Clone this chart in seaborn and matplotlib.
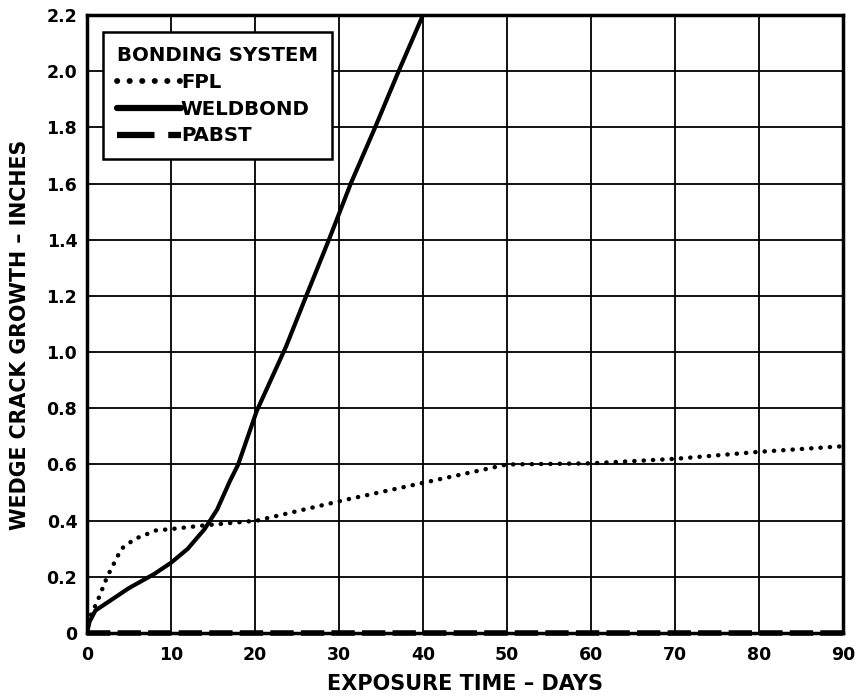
import numpy as np
import pandas as pd
import matplotlib
matplotlib.use("Agg")
import matplotlib.pyplot as plt
import seaborn as sns

# Data
fpl_days = [0, 0.4, 1.2, 2.4, 4.1, 5.7, 8.2, 10, 13.9, 20.2, 30.6, 41.6, 50, 60, 70, 80, 90]
fpl_crack = [0, 0.06, 0.11, 0.2, 0.3, 0.335, 0.365, 0.37, 0.383, 0.4, 0.473, 0.545, 0.6, 0.604, 0.62, 0.645, 0.665]

weld_days = [0, 0.3, 1.0, 2.0, 5.0, 8.0, 10, 12, 14, 15.5, 17, 18, 20.2, 23.7, 26.1, 28.8, 31.4, 34.3, 37.1, 40]
weld_crack = [0, 0.04, 0.08, 0.1, 0.16, 0.21, 0.25, 0.3, 0.37, 0.44, 0.54, 0.6, 0.79, 1.02, 1.2, 1.4, 1.6, 1.8, 2.0, 2.2]

pabst_days = [0, 90]
pabst_crack = [0, 0]

x_ticks = [0, 10, 20, 30, 40, 50, 60, 70, 80, 90]
y_ticks = [0, 0.2, 0.4, 0.6, 0.8, 1.0, 1.2, 1.4, 1.6, 1.8, 2.0, 2.2]
y_tick_labels = ["0", "0.2", "0.4", "0.6", "0.8", "1.0", "1.2", "1.4", "1.6", "1.8", "2.0", "2.2"]

sns.set_style("white")
plt.rcParams['font.family'] = ['DejaVu Sans']
plt.rcParams['font.weight'] = 'bold'
plt.rcParams['text.color'] = 'black'
plt.rcParams['axes.labelcolor'] = 'black'
plt.rcParams['xtick.color'] = 'black'
plt.rcParams['ytick.color'] = 'black'
plt.rcParams['legend.labelcolor'] = 'black'

fig = plt.figure(figsize=(8.57, 6.98), dpi=100)
ax = fig.add_axes([0.1015, 0.0931, 0.8822, 0.8854])

df_fpl = pd.DataFrame({"days": fpl_days, "crack": fpl_crack})
df_weld = pd.DataFrame({"days": weld_days, "crack": weld_crack})
df_pabst = pd.DataFrame({"days": pabst_days, "crack": pabst_crack})

sns.lineplot(data=df_fpl, x="days", y="crack", ax=ax, color="black", lw=3.2,
             label="FPL", sort=False, estimator=None)
ax.lines[-1].set_linestyle((0, (0.05, 2.05)))
ax.lines[-1].set_dash_capstyle("round")

sns.lineplot(data=df_weld, x="days", y="crack", ax=ax, color="black", lw=3.0,
             label="WELDBOND", sort=False, estimator=None)

sns.lineplot(data=df_pabst, x="days", y="crack", ax=ax, color="black", lw=4.0,
             label="PABST", sort=False, estimator=None)
ax.lines[-1].set_linestyle((0, (4.2, 1.3)))
ax.lines[-1].set_clip_on(False)

ax.set_xlim(0, 90)
ax.set_ylim(0, 2.2)
ax.set_xticks(x_ticks)
ax.set_xticklabels([str(t) for t in x_ticks])
ax.set_yticks(y_ticks)
ax.set_yticklabels(y_tick_labels)
ax.grid(True, color="black", lw=1.3)
ax.set_axisbelow(True)
for s in ax.spines.values():
    s.set_linewidth(2.5)
    s.set_color("black")
ax.tick_params(axis="x", labelsize=12.5, length=0, pad=9, colors="black")
ax.tick_params(axis="y", labelsize=12.5, length=0, pad=7, colors="black")
for lab in ax.get_xticklabels() + ax.get_yticklabels():
    lab.set_fontweight("bold")

ax.set_xlabel("EXPOSURE TIME – DAYS", fontsize=15, fontweight="bold", color="black")
ax.set_ylabel("WEDGE CRACK GROWTH – INCHES", fontsize=14.8, fontweight="bold", color="black")
# label positions in axes coordinates
ax.xaxis.set_label_coords(0.5, -0.066)
ax.yaxis.set_label_coords(-0.075, 0.482)

leg = ax.legend(title="BONDING SYSTEM", loc="upper left", bbox_to_anchor=(0.021, 0.9725),
                handlelength=3.25, handletextpad=0.0, frameon=True, fancybox=False,
                edgecolor="black", framealpha=1, fontsize=14.2, title_fontsize=14.2,
                alignment="left", borderpad=0.7, labelspacing=0.4, borderaxespad=0)
leg.get_frame().set_linewidth(1.8)
leg.get_title().set_fontweight("bold")
leg.get_title().set_color("black")
for t in leg.get_texts():
    t.set_fontweight("bold")
    t.set_color("black")
leg_lines = leg.get_lines()
leg_lines[0].set_linewidth(4.2)
leg_lines[0].set_linestyle((0, (0.05, 2.1)))
leg_lines[0].set_dash_capstyle("round")
leg_lines[1].set_linewidth(4.5)
leg_lines[2].set_linewidth(4.5)
leg_lines[2].set_linestyle((0, (6.0, 2.2)))

fig.savefig("out.png", dpi=100, facecolor="white")
